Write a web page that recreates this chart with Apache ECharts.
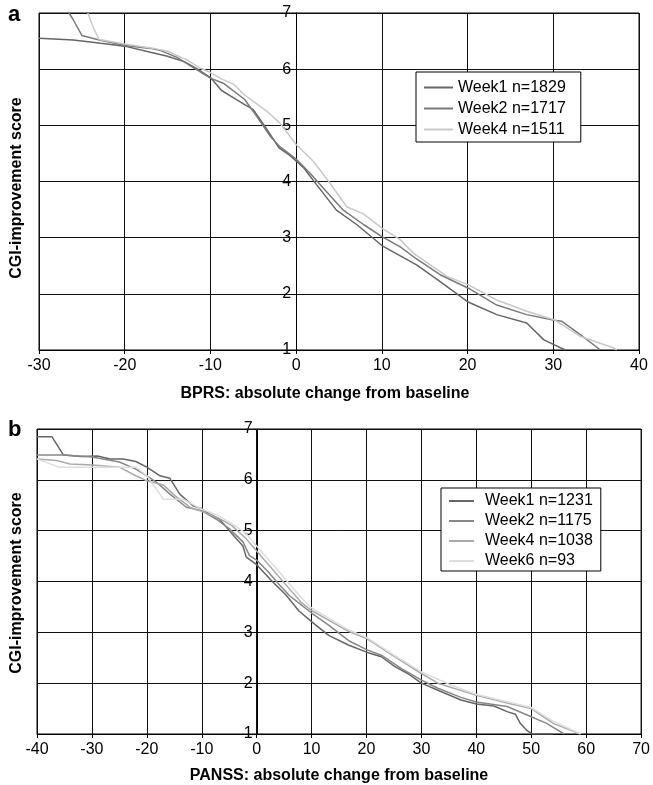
<!DOCTYPE html>
<html>
<head>
<meta charset="utf-8">
<script src="https://cdn.jsdelivr.net/npm/echarts@6/dist/echarts.min.js"></script>
<style>
  html, body { margin: 0; padding: 0; background: #fff; }
  #chart { width: 653px; height: 785px; }
</style>
</head>
<body>
<div id="chart"></div>
<script>
// panel a: BPRS, [change, CGI-improvement]
const bprsWeek1 = [[-30,6.55],[-26,6.52],[-22.8,6.46],[-20,6.41],[-17,6.30],[-15,6.23],[-13,6.13],[-11.6,6.01],[-10,5.85],[-8.7,5.62],[-7.3,5.49],[-5.8,5.35],[-5,5.28],[-3.6,4.97],[-2,4.6],[-0.7,4.46],[0.9,4.24],[2.4,3.94],[4.7,3.49],[7.1,3.23],[10,2.86],[14.1,2.51],[16.4,2.26],[20,1.86],[23.4,1.63],[26.9,1.48],[28.9,1.18],[31.4,1.0]];
const bprsWeek2 = [[-26.5,7],[-26,6.88],[-25,6.6],[-23.2,6.53],[-20,6.42],[-17,6.37],[-15.8,6.33],[-13.9,6.21],[-11.9,6.02],[-10,5.84],[-8.5,5.75],[-6,5.46],[-4.6,5.16],[-3,4.8],[-1.9,4.62],[0,4.4],[1.6,4.15],[3.6,3.81],[5.5,3.49],[7.9,3.23],[10,3.02],[12.1,2.84],[13.7,2.66],[16.8,2.34],[20.1,2.1],[23.4,1.8],[26.9,1.63],[30.1,1.53],[31,1.51],[33.2,1.27],[35.5,1.0]];
const bprsWeek4 = [[-24.3,7],[-23.6,6.72],[-23,6.53],[-20,6.45],[-16.6,6.37],[-15,6.32],[-12.7,6.16],[-11.2,6.02],[-10,5.94],[-8.9,5.84],[-7.3,5.73],[-6,5.54],[-3.4,5.25],[-1.9,5.04],[0,4.66],[2,4.36],[3.8,4.0],[5.9,3.55],[7.9,3.42],[10,3.17],[12.1,2.97],[13.7,2.72],[17.6,2.31],[20.1,2.16],[23.4,1.89],[26.9,1.69],[30.1,1.54],[33.2,1.24],[37,1.04],[37.4,1.0]];

// panel b: PANSS
const panssWeek1 = [[-40,6.85],[-37.3,6.85],[-35.2,6.49],[-32,6.46],[-29,6.47],[-26.7,6.41],[-24.3,6.41],[-22,6.36],[-20,6.25],[-17.6,6.08],[-15.8,6.03],[-14,5.72],[-11.6,5.49],[-10,5.43],[-8.6,5.33],[-6.8,5.23],[-3.7,4.84],[-2.5,4.7],[-1.9,4.48],[0,4.33],[2.85,4.0],[5.3,3.74],[7.7,3.42],[10.1,3.2],[13.1,2.94],[16.7,2.75],[20,2.61],[22.7,2.52],[25.1,2.33],[27.5,2.19],[30,2.0],[33,1.86],[37.2,1.67],[40,1.59],[43.2,1.55],[45.6,1.44],[47.1,1.39],[48,1.21],[49.2,1.07],[50.2,1.0],[54,1.0]];
const panssWeek2 = [[-40,6.49],[-35,6.49],[-30,6.45],[-25,6.35],[-22,6.21],[-20,6.08],[-18.2,5.95],[-15.8,5.72],[-12.8,5.46],[-10,5.39],[-7.4,5.23],[-5,5.04],[-2.5,4.78],[-1.3,4.51],[0,4.42],[2,4.2],[4,3.95],[6,3.72],[8,3.55],[10,3.38],[13.1,3.14],[16.7,2.84],[20,2.66],[22.7,2.55],[26.3,2.29],[30,2.06],[33,1.9],[37.2,1.72],[40,1.63],[45.6,1.54],[50,1.34],[52.8,1.21],[56,1.0]];
const panssWeek4 = [[-40,6.41],[-36.4,6.38],[-34,6.31],[-30,6.29],[-25,6.25],[-22,6.08],[-20,5.98],[-17,5.9],[-15,5.7],[-12,5.45],[-10,5.38],[-7,5.25],[-4.5,5.1],[-2,4.85],[0,4.6],[2,4.35],[4,4.1],[6,3.85],[8,3.6],[10,3.43],[13.1,3.24],[16.7,3.02],[20,2.88],[25.1,2.52],[30,2.19],[33,2.0],[40,1.76],[45.6,1.61],[50,1.5],[54,1.21],[58.9,1.0]];
const panssWeek6 = [[-40,6.41],[-36,6.25],[-22,6.25],[-20,6.08],[-17,5.62],[-13.4,5.62],[-10,5.42],[-7,5.3],[-4,5.1],[-2,4.95],[0,4.7],[2,4.45],[4,4.2],[6,3.95],[8,3.7],[10,3.48],[13.1,3.28],[16.7,3.05],[20,2.9],[25,2.55],[30,2.22],[35,1.98],[40,1.78],[45,1.65],[50,1.52],[54,1.25],[59,1.0]];

const namesA = ['Week1 n=1829', 'Week2 n=1717', 'Week4 n=1511'];
const namesB = ['Week1 n=1231', 'Week2 n=1175', 'Week4 n=1038', 'Week6 n=93'];
const yTitle = 'CGI-improvement score';

const FONT = "'Liberation Sans', Arial, sans-serif";

function xAxis(grid, min, max, name, gap, pad) {
    return {
        gridIndex: grid, type: 'value', min: min, max: max, interval: 10,
        name: name, nameLocation: 'middle', nameGap: gap,
        nameTextStyle: { fontFamily: FONT, fontSize: 16, fontWeight: 'bold', color: '#000', padding: pad },
        axisLine: { onZero: false, lineStyle: { color: '#000', width: 1 } },
        axisTick: { show: true, length: 4, lineStyle: { color: '#000' } },
        axisLabel: { fontFamily: FONT, fontSize: 16, color: '#000', margin: 8 },
        splitLine: { show: true, lineStyle: { color: '#111', width: 1 } }
    };
}

// the y axis sits on x = 0, so it is pushed into the grid with a negative offset
function yAxis(grid, offset) {
    return {
        gridIndex: grid, type: 'value', min: 1, max: 7, interval: 1,
        offset: offset,
        axisLine: { onZero: false, lineStyle: { color: '#000', width: 1 } },
        axisTick: { show: true, length: 4, lineStyle: { color: '#000' } },
        axisLabel: { fontFamily: FONT, fontSize: 16, color: '#000', margin: 5 },
        splitLine: { show: true, lineStyle: { color: '#111', width: 1 } }
    };
}

function line(name, data, color, idx) {
    return {
        name: name, type: 'line', data: data, xAxisIndex: idx, yAxisIndex: idx,
        symbol: 'none', smooth: false, z: 3,
        itemStyle: { color: color },
        lineStyle: { color: color, width: 1.5 }
    };
}

const chart = echarts.init(document.getElementById('chart'));
chart.setOption({
    animation: false,
    backgroundColor: '#fff',
    grid: [
        { left: 39, top: 13, width: 600, height: 337, show: true, borderColor: '#000', borderWidth: 1, backgroundColor: 'transparent' },
        { left: 37, top: 429, width: 607, height: 305, show: true, borderColor: '#000', borderWidth: 1, backgroundColor: 'transparent' }
    ],
    xAxis: [
        xAxis(0, -30, 40, 'BPRS: absolute change from baseline', 36, [0, 28, 0, 0]),
        xAxis(1, -40, 70, 'PANSS: absolute change from baseline', 34, [0, 0, 0, 0])
    ],
    yAxis: [yAxis(0, -600 * 30 / 70), yAxis(1, -607 * 40 / 110)],
    legend: [
        {
            data: namesA, left: 416, top: 72, orient: 'vertical',
            icon: 'rect', itemWidth: 29, itemHeight: 2, itemGap: 0,
            padding: [5, 15, 2, 8], backgroundColor: '#fff',
            borderColor: '#000', borderWidth: 1,
            textStyle: { fontFamily: FONT, fontSize: 16, color: '#000', lineHeight: 21, height: 21, padding: [0, 0, 0, 0] }
        },
        {
            data: namesB, left: 441, top: 488, orient: 'vertical',
            icon: 'rect', itemWidth: 25, itemHeight: 2, itemGap: 0,
            padding: [3, 8, 0, 8], backgroundColor: '#fff',
            borderColor: '#000', borderWidth: 1,
            textStyle: { fontFamily: FONT, fontSize: 16, color: '#000', lineHeight: 20, height: 20, padding: [0, 0, 0, 6] }
        }
    ],
    graphic: [
        { type: 'text', left: 8, top: 4, style: { text: 'a', font: "bold 22px 'Liberation Sans', Arial", fill: '#000' } },
        { type: 'text', left: 8, top: 419, style: { text: 'b', font: "bold 22px 'Liberation Sans', Arial", fill: '#000' } },
        { type: 'text', x: 17, y: 188, rotation: Math.PI / 2,
          style: { text: yTitle, font: "bold 16px 'Liberation Sans', Arial", fill: '#000', align: 'center', verticalAlign: 'middle' } },
        { type: 'text', x: 17, y: 583, rotation: Math.PI / 2,
          style: { text: yTitle, font: "bold 16px 'Liberation Sans', Arial", fill: '#000', align: 'center', verticalAlign: 'middle' } }
    ],
    series: [
        line(namesA[0], bprsWeek1, '#666666', 0),
        line(namesA[1], bprsWeek2, '#7a7a7a', 0),
        line(namesA[2], bprsWeek4, '#c8c8c8', 0),
        line(namesB[0], panssWeek1, '#666666', 1),
        line(namesB[1], panssWeek2, '#888888', 1),
        line(namesB[2], panssWeek4, '#aaaaaa', 1),
        line(namesB[3], panssWeek6, '#dddddd', 1)
    ]
});
</script>
</body>
</html>
